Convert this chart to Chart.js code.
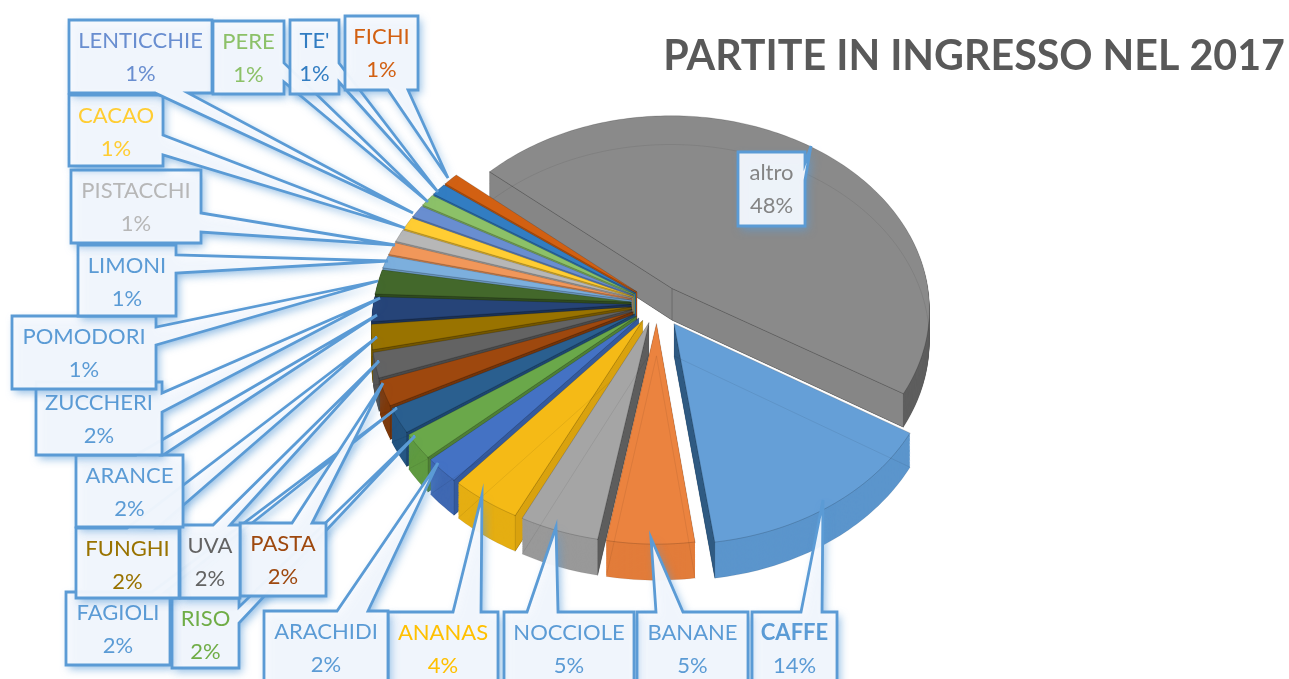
<!DOCTYPE html>
<html><head><meta charset="utf-8">
<style>html,body{margin:0;padding:0;background:#fff;overflow:hidden}canvas{display:block}</style>
<script src="https://cdn.jsdelivr.net/npm/chart.js@4"></script>
</head><body><canvas id="c" width="1289" height="679"></canvas>
<script>
const titleText = "PARTITE IN INGRESSO NEL 2017";
const categories = ["altro","CAFFE","BANANE","NOCCIOLE","ANANAS","ARACHIDI","RISO","FAGIOLI","PASTA","UVA","FUNGHI","ARANCE","ZUCCHERI","POMODORI","LIMONI","PISTACCHI","CACAO","LENTICCHIE","PERE","TE'","FICHI"];
const shares = [48.4,14.4,5.0,4.55,4.1,2.1,2.1,2.1,2.1,2.1,2.1,2.1,2.1,1.1,1.1,1.1,1.1,1.1,1.1,1.1,1.1];
const sliceColors = ["#8A8A8A","#659FD7","#EB833F","#A5A5A5","#F5BA16","#4472C4","#6AA84A","#2A5F8F","#9E480E","#636363","#997300","#264478","#43682B","#7CAFDD","#F1975A","#B7B7B7","#FFCD33","#698ED0","#8CC168","#327DC2","#D26012"];
const textColors = ["#848484","#5B9BD5","#5B9BD5","#5B9BD5","#FFC000","#5B9BD5","#70AD47","#5B9BD5","#9E480E","#636363","#997300","#5B9BD5","#5B9BD5","#5B9BD5","#5B9BD5","#B7B7B7","#FFCD33","#698ED0","#8CC168","#327DC2","#D26012"];
const rimColors = ["#5E5E5E","#5B95CC","#E27C3A","#999999","#E5AE12","#3F68B2","#5F9A40","#235480","#7E390B","#555555","#7E5F00","#1F3963","#385723","#6F9FCB","#D98850","#A5A5A5","#E6B82E","#5F80BB","#7EAE5D","#2D70AE","#BD5610"];
const cutColors = ["#868686","#2F5A82","#C9692B","#5D5D5D","#D9A20E","#345A9E","#4F7F36","#1D4670","#73340A","#4A4A4A","#735600","#1B3154","#2F4A1F","#6A97C0","#CF814D","#9B9B9B","#D9AE2B","#5678B0","#76A457","#2A6AA5","#B2510F"];

// camera used to lay the pie's disc on a tilted plane
const view = {cx:657, cy:304, rx:258, ry:193.6, k:0.103, depth:32, explode:0.1, explodeCaffe:0.12};

// callout boxes, in the same order as categories: box, side of the pointer base, base span, tip
const callouts = [
 {b:[738,152,67,74], side:"right",  base:[163,180], tip:[811,146]},
 {b:[752,612,85,85], side:"top",    base:[801,822], tip:[823,500]},
 {b:[637,612,111,85],side:"top",    base:[656,683], tip:[651,538]},
 {b:[504,612,130,85],side:"top",    base:[527,558], tip:[556,527]},
 {b:[388,612,110,85],side:"top",    base:[453,481], tip:[482,495]},
 {b:[264,611,124,85],side:"top",    base:[337,368], tip:[438,463]},
 {b:[172,598,67,70], side:"right",  base:[607,623], tip:[415,436]},
 {b:[66,592,104,73], side:"top",    base:[152,165], tip:[397,408]},
 {b:[240,523,86,73], side:"top",    base:[292,312], tip:[383,383]},
 {b:[180,525,60,73], side:"top",    base:[213,230], tip:[379,361]},
 {b:[76,528,103,70], side:"top",    base:[127,157], tip:[377,337]},
 {b:[76,455,107,72], side:"top",    base:[136,163], tip:[377,315]},
 {b:[36,382,126,73], side:"right",  base:[393,412], tip:[380,298]},
 {b:[12,316,144,73], side:"right",  base:[327,345], tip:[378,281]},
 {b:[78,245,98,71],  side:"right",  base:[255,273], tip:[388,261]},
 {b:[71,170,130,73], side:"right",  base:[213,232], tip:[395,245]},
 {b:[69,95,94,71],   side:"right",  base:[135,155], tip:[405,228]},
 {b:[69,20,143,73],  side:"bottom", base:[155,188], tip:[413,213]},
 {b:[213,21,71,73],  side:"right",  base:[63,82],   tip:[428,202]},
 {b:[290,20,49,74],  side:"right",  base:[63,82],   tip:[438,192]},
 {b:[345,16,73,74],  side:"bottom", base:[388,408], tip:[448,178]}
];

const FONT = "Lato, Carlito, sans-serif";

function project(u, v, z) {
  const w = 1 - view.k * v;
  return [view.cx + view.rx * u / w, view.cy + view.ry * v / w + z * view.depth / w];
}

function shift(arc, i) {
  const mid = (arc.startAngle + arc.endAngle) / 2;
  const e = categories[i] === "CAFFE" ? view.explodeCaffe : view.explode;
  return [Math.cos(mid) * e, Math.sin(mid) * e];
}

// Wraps the canvas context so the library's own ArcElement path lands on the tilted plane
function tiltedContext(ctx, arc, i, z, mode, color) {
  const R = arc.outerRadius, [ox, oy] = shift(arc, i);
  const pt = (u, v) => project(u + ox, v + oy, z);
  const over = {
    translate() {},
    moveTo(x, y) { const p = pt((x - arc.x) / R, (y - arc.y) / R); ctx.moveTo(p[0], p[1]); },
    lineTo(x, y) { const p = pt((x - arc.x) / R, (y - arc.y) / R); ctx.lineTo(p[0], p[1]); },
    arc(x, y, r, a0, a1, ccw) {
      const rr = r > R / 2 ? 1 : 0;
      const n = Math.max(2, Math.ceil(Math.abs(a1 - a0) / 0.02));
      for (let k = 0; k <= n; k++) {
        const a = a0 + (a1 - a0) * k / n;
        const p = pt(rr * Math.cos(a), rr * Math.sin(a));
        ctx.lineTo(p[0], p[1]);
      }
    },
    fill() { if (mode === "stroke") ctx.stroke(); else ctx.fill(); }
  };
  return new Proxy(ctx, {
    get(t, k) { if (k in over) return over[k]; const v = t[k]; return typeof v === "function" ? v.bind(t) : v; },
    set(t, k, v) { if (k === "fillStyle") { t.fillStyle = color; t.strokeStyle = color; } else if (k !== "strokeStyle") t[k] = v; return true; }
  });
}

function cutFace(ctx, arc, i, angle, color) {
  const [ox, oy] = shift(arc, i);
  const a = project(ox, oy, 0), b = project(Math.cos(angle) + ox, Math.sin(angle) + oy, 0);
  const c = project(Math.cos(angle) + ox, Math.sin(angle) + oy, 1), d = project(ox, oy, 1);
  ctx.fillStyle = color;
  ctx.beginPath(); ctx.moveTo(a[0], a[1]); ctx.lineTo(b[0], b[1]); ctx.lineTo(c[0], c[1]); ctx.lineTo(d[0], d[1]); ctx.closePath(); ctx.fill();
  ctx.strokeStyle = "rgba(0,0,0,0.12)"; ctx.lineWidth = 1; ctx.stroke();
}

const pie3d = {
  id: "pie3d",
  beforeDatasetsDraw(chart) {
    const ctx = chart.ctx, arcs = chart.getDatasetMeta(0).data;
    const order = arcs.map((a, i) => i).sort((p, q) =>
      Math.sin((arcs[p].startAngle + arcs[p].endAngle) / 2) - Math.sin((arcs[q].startAngle + arcs[q].endAngle) / 2));
    for (const i of order) {
      const arc = arcs[i];
      ctx.save();
      for (let z = 1; z > 0; z -= 1 / view.depth) arc.draw(tiltedContext(ctx, arc, i, z, "fill", rimColors[i]));
      // cut faces that turn toward the viewer
      if (Math.cos(arc.startAngle) < 0) cutFace(ctx, arc, i, arc.startAngle, cutColors[i]);
      if (Math.cos(arc.endAngle) > 0) cutFace(ctx, arc, i, arc.endAngle, cutColors[i]);
      arc.draw(tiltedContext(ctx, arc, i, 0, "fill", sliceColors[i]));
      ctx.lineWidth = 1;
      arc.draw(tiltedContext(ctx, arc, i, 1, "stroke", "rgba(0,0,0,0.07)"));
      arc.draw(tiltedContext(ctx, arc, i, 0, "stroke", "rgba(0,0,0,0.16)"));
      ctx.restore();
    }
    return false;
  },
  afterDraw(chart) {
    const ctx = chart.ctx;
    const drawOrder = categories.map((c, i) => (i + 1) % categories.length);
    for (const i of drawOrder) {
      const c = callouts[i], [x, y, w, h] = c.b;
      ctx.save();
      ctx.beginPath();
      ctx.moveTo(x, y);
      if (c.side === "top") { ctx.lineTo(c.base[0], y); ctx.lineTo(c.tip[0], c.tip[1]); ctx.lineTo(c.base[1], y); }
      ctx.lineTo(x + w, y);
      if (c.side === "right") { ctx.lineTo(x + w, c.base[0]); ctx.lineTo(c.tip[0], c.tip[1]); ctx.lineTo(x + w, c.base[1]); }
      ctx.lineTo(x + w, y + h);
      if (c.side === "bottom") { ctx.lineTo(c.base[1], y + h); ctx.lineTo(c.tip[0], c.tip[1]); ctx.lineTo(c.base[0], y + h); }
      ctx.lineTo(x, y + h);
      ctx.closePath();
      ctx.shadowColor = "rgba(91,155,213,0.7)"; ctx.shadowBlur = 8; ctx.shadowOffsetX = 3; ctx.shadowOffsetY = 4;
      ctx.fillStyle = "rgba(248,250,254,0.93)";
      ctx.fill();
      ctx.shadowColor = "transparent";
      ctx.strokeStyle = "#5B9BD5"; ctx.lineWidth = 2.8; ctx.lineJoin = "miter";
      ctx.stroke();
      ctx.fillStyle = textColors[i];
      ctx.textAlign = "center"; ctx.textBaseline = "middle";
      ctx.font = (categories[i] === "CAFFE" ? "bold " : "") + "22px " + FONT;
      ctx.fillText(categories[i], x + w / 2, y + 21);
      ctx.font = "22px " + FONT;
      ctx.fillText(Math.round(shares[i]) + "%", x + w / 2, y + 54);
      ctx.restore();
    }
  }
};

new Chart(document.getElementById("c"), {
  type: "pie",
  data: { labels: categories, datasets: [{ data: shares, backgroundColor: sliceColors, borderWidth: 0, offset: 4 }] },
  options: {
    responsive: false, animation: false, rotation: 310.8,
    layout: { padding: { right: 4 } },
    plugins: {
      legend: { display: false }, tooltip: { enabled: false },
      title: { display: true, text: titleText, align: "end", color: "#595959",
               font: { family: FONT, size: 41.2, weight: "bold" }, padding: { top: 32, bottom: 0 } }
    }
  },
  plugins: [pie3d]
});
</script></body></html>
